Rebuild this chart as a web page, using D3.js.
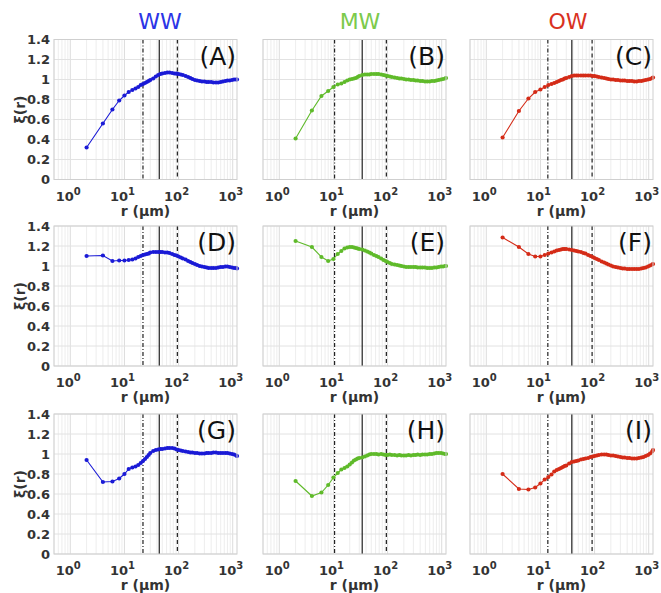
<!DOCTYPE html>
<html>
<head>
<meta charset="utf-8">
<script src="https://cdn.jsdelivr.net/npm/d3@7/dist/d3.min.js"></script>
<style>
body { margin: 0; background: #fff; }
text { font-family: "DejaVu Sans", sans-serif; }
</style>
</head>
<body>
<svg width="661" height="593"></svg>
<script>
// r values (um) shared by all curves
var rVals = [2,4,6,8,10,12,14,16,18,20,22,24,26,28,30,34,38,42,46,50,56,62,68,76,84,92,100,110,120,135,150,165,180,200,220,245,270,300,330,360,400,440,490,540,600,660,730,800,880,970,1060,1160,1200];

// xi(r)
var wwA = [0.32,0.56,0.70,0.79,0.84,0.875,0.895,0.91,0.925,0.945,0.955,0.965,0.975,0.985,0.995,1.01,1.03,1.045,1.055,1.06,1.065,1.07,1.07,1.065,1.06,1.058,1.055,1.05,1.045,1.035,1.025,1.015,1.005,0.995,0.99,0.985,0.98,0.98,0.975,0.975,0.975,0.97,0.97,0.97,0.975,0.98,0.985,0.99,0.99,0.995,1.0,1.0,1.0];
var mwB = [0.41,0.69,0.835,0.885,0.925,0.95,0.96,0.975,0.99,1.0,1.005,1.01,1.015,1.025,1.035,1.045,1.05,1.05,1.05,1.055,1.055,1.055,1.055,1.05,1.045,1.04,1.035,1.03,1.025,1.02,1.015,1.01,1.01,1.005,1.0,1.0,0.995,0.995,0.99,0.99,0.985,0.985,0.98,0.98,0.98,0.985,0.985,0.99,0.995,1.0,1.005,1.01,1.015];
var owC = [0.42,0.685,0.81,0.875,0.90,0.925,0.945,0.955,0.965,0.975,0.985,0.995,1.0,1.01,1.015,1.025,1.035,1.04,1.04,1.04,1.04,1.04,1.04,1.04,1.04,1.035,1.035,1.03,1.025,1.02,1.015,1.01,1.005,1.0,1.0,0.995,0.995,0.99,0.99,0.99,0.985,0.985,0.985,0.98,0.98,0.985,0.985,0.99,0.995,1.0,1.005,1.015,1.02];
var wwD = [1.10,1.105,1.05,1.055,1.055,1.06,1.065,1.075,1.09,1.10,1.11,1.115,1.12,1.125,1.135,1.14,1.14,1.14,1.14,1.14,1.135,1.135,1.13,1.12,1.11,1.105,1.095,1.085,1.075,1.065,1.05,1.04,1.03,1.02,1.01,1.0,0.995,0.99,0.985,0.98,0.98,0.98,0.98,0.985,0.99,0.99,0.995,0.995,0.99,0.985,0.98,0.98,0.975];
var mwE = [1.25,1.19,1.09,1.05,1.07,1.12,1.15,1.175,1.185,1.19,1.19,1.185,1.18,1.175,1.17,1.165,1.155,1.145,1.135,1.125,1.11,1.10,1.09,1.075,1.06,1.05,1.04,1.03,1.02,1.015,1.01,1.005,1.0,0.995,0.99,0.99,0.99,0.99,0.99,0.985,0.985,0.985,0.985,0.98,0.98,0.98,0.985,0.985,0.99,0.995,0.995,1.0,1.0];
var owF = [1.285,1.19,1.12,1.095,1.095,1.11,1.125,1.135,1.145,1.155,1.16,1.165,1.17,1.17,1.17,1.165,1.16,1.155,1.15,1.145,1.14,1.13,1.125,1.11,1.10,1.09,1.08,1.07,1.06,1.045,1.035,1.025,1.015,1.005,0.995,0.99,0.985,0.98,0.975,0.975,0.97,0.97,0.97,0.97,0.97,0.97,0.975,0.98,0.985,0.995,1.005,1.015,1.02];
var wwG = [0.94,0.72,0.725,0.755,0.80,0.85,0.865,0.875,0.89,0.91,0.93,0.95,0.97,0.99,1.01,1.03,1.04,1.045,1.05,1.05,1.055,1.06,1.06,1.06,1.055,1.045,1.04,1.035,1.03,1.025,1.02,1.015,1.015,1.01,1.01,1.005,1.005,1.005,1.01,1.01,1.01,1.015,1.015,1.01,1.01,1.01,1.01,1.01,1.005,1.0,0.995,0.985,0.98];
var mwH = [0.73,0.58,0.615,0.69,0.765,0.81,0.845,0.86,0.875,0.895,0.915,0.935,0.945,0.955,0.96,0.965,0.975,0.985,0.995,1.0,1.0,1.0,0.995,1.0,0.995,0.99,0.99,0.995,0.99,0.99,0.985,0.99,0.985,0.985,0.985,0.99,0.985,0.99,0.99,0.995,0.99,0.995,0.995,0.995,1.0,1.0,1.005,1.01,1.01,1.01,1.005,1.0,1.0];
var owI = [0.80,0.65,0.645,0.665,0.705,0.745,0.77,0.795,0.825,0.84,0.85,0.86,0.87,0.88,0.885,0.905,0.92,0.925,0.93,0.935,0.945,0.95,0.955,0.96,0.97,0.975,0.98,0.985,0.99,0.995,0.995,0.995,0.99,0.985,0.985,0.98,0.975,0.97,0.965,0.965,0.96,0.96,0.955,0.955,0.955,0.96,0.965,0.97,0.98,0.99,1.005,1.025,1.04];

// per column: name, line colour, title colour, reference lines (dash-dot, solid, dashed)
var colNames = ["WW", "MW", "OW"];
var lineColors = ["#1a1ad6", "#5fba2a", "#d42b17"];
var titleColors = ["#2b35e6", "#7cca4c", "#d9321f"];
var refDashDot = [22, 10.5, 13.7];
var refSolid = [44, 34, 38];
var refDashed = [95, 95, 90];

var panelLabels = ["(A)","(B)","(C)","(D)","(E)","(F)","(G)","(H)","(I)"];
var panelData = [wwA, mwB, owC, wwD, mwE, owF, wwG, mwH, owI];

var yTicks = [0, 0.2, 0.4, 0.6, 0.8, 1, 1.2, 1.4];
var xTicks = [1, 10, 100, 1000];

var lefts = [54, 263, 470];
var tops = [39.5, 226, 414];
var w = 183, h = 140;

var svg = d3.select("svg");

var x = d3.scaleLog().domain([0.5, 1200]).range([0, w]);
var y = d3.scaleLinear().domain([0, 1.4]).range([h, 0]);

var minorX = [];
[0.1, 1, 10, 100, 1000].forEach(function(d) {
    for (var k = 2; k < 10; k++) {
        var v = d * k;
        if (v >= 0.5 && v <= 1200) minorX.push(v);
    }
});

// column titles
var titleX = [160, 360, 568];
colNames.forEach(function(n, c) {
    svg.append("text")
        .attr("x", titleX[c]).attr("y", 29)
        .attr("text-anchor", "middle")
        .style("font-size", "22px")
        .style("fill", titleColors[c])
        .text(n);
});

panelData.forEach(function(vals, i) {
    var col = i % 3, row = Math.floor(i / 3);
    var g = svg.append("g")
        .attr("transform", "translate(" + lefts[col] + "," + tops[row] + ")");

    g.append("rect").attr("width", w).attr("height", h).style("fill", "#fff");

    // grid
    g.append("g").selectAll("line").data(minorX).enter().append("line")
        .attr("x1", d => x(d)).attr("x2", d => x(d))
        .attr("y1", 0).attr("y2", h)
        .style("stroke", "#e8e8e8").style("stroke-width", 0.8);
    g.append("g").selectAll("line").data(xTicks).enter().append("line")
        .attr("x1", d => x(d)).attr("x2", d => x(d))
        .attr("y1", 0).attr("y2", h)
        .style("stroke", "#dcdcdc").style("stroke-width", 1);
    g.append("g").selectAll("line").data(yTicks).enter().append("line")
        .attr("x1", 0).attr("x2", w)
        .attr("y1", d => y(d)).attr("y2", d => y(d))
        .style("stroke", "#e2e2e2").style("stroke-width", 1);

    // reference lines
    [[refDashDot[col], "4,2,1,2"], [refSolid[col], null], [refDashed[col], "4,3"]].forEach(function(r) {
        g.append("line")
            .attr("x1", x(r[0])).attr("x2", x(r[0]))
            .attr("y1", 0).attr("y2", h)
            .style("stroke", "#222").style("stroke-width", 1.2)
            .style("stroke-dasharray", r[1]);
    });

    // curve
    var pts = rVals.map(function(r, k) { return [r, vals[k]]; });
    var line = d3.line().x(d => x(d[0])).y(d => y(d[1]));
    g.append("path").datum(pts)
        .attr("d", line)
        .style("fill", "none")
        .style("stroke", lineColors[col])
        .style("stroke-width", 1.1);
    g.append("g").selectAll("circle").data(pts).enter().append("circle")
        .attr("cx", d => x(d[0])).attr("cy", d => y(d[1]))
        .attr("r", 2.1)
        .style("fill", lineColors[col]);

    // box
    g.append("rect").attr("width", w).attr("height", h)
        .style("fill", "none").style("stroke", "#cfcfcf").style("stroke-width", 1);

    // panel letter
    g.append("text")
        .attr("x", w - 1).attr("y", 25)
        .attr("text-anchor", "end")
        .style("font-size", "25px")
        .style("fill", "#111")
        .text(panelLabels[i]);

    // x tick labels
    var xl = g.append("g").selectAll("text").data(xTicks).enter().append("text")
        .attr("x", d => x(d) - 2).attr("y", h + 21)
        .attr("text-anchor", "middle")
        .style("font-size", "13px").style("font-weight", "bold").style("fill", "#333");
    xl.append("tspan").text("10");
    xl.append("tspan")
        .attr("dy", -6).style("font-size", "10px")
        .text(d => Math.round(Math.log10(d)));

    g.append("text")
        .attr("x", w / 2).attr("y", h + 36)
        .attr("text-anchor", "middle")
        .style("font-size", "14px").style("font-weight", "bold").style("fill", "#333")
        .text("r (μm)");

    if (col === 0) {
        g.append("g").selectAll("text").data(yTicks).enter().append("text")
            .attr("x", -4).attr("y", d => y(d))
            .attr("dy", "0.36em")
            .attr("text-anchor", "end")
            .style("font-size", "13px").style("font-weight", "bold").style("fill", "#333")
            .text(d => d3.format("")(d));
        g.append("text")
            .attr("transform", "translate(-29," + (h / 2) + ") rotate(-90)")
            .attr("text-anchor", "middle")
            .style("font-size", "14px").style("font-weight", "bold").style("fill", "#333")
            .text("ξ(r)");
    }
});
</script>
</body>
</html>
